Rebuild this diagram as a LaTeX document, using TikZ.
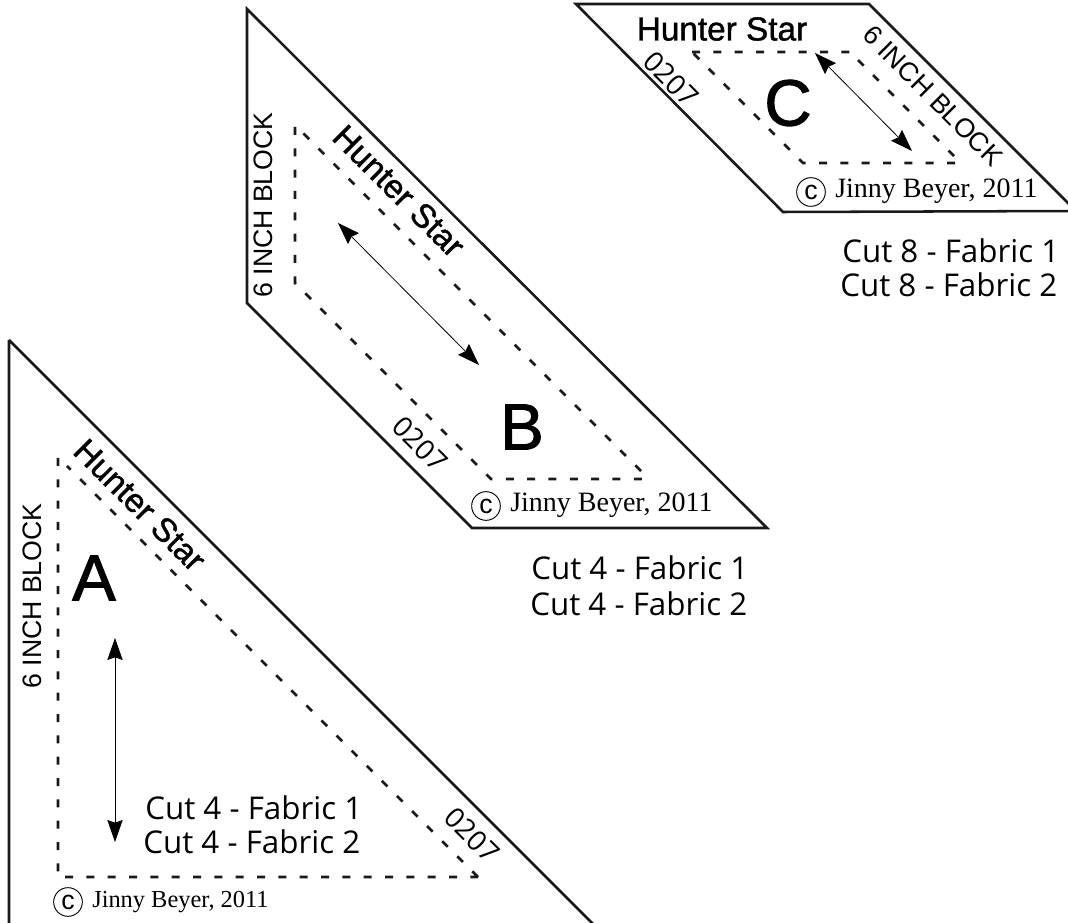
\documentclass[tikz,border=0pt]{standalone}
\usepackage{fontspec}
\setmainfont{Liberation Serif}
\setsansfont{Liberation Sans}
\newfontfamily\cutfont{Open Sans}
\newfontfamily\heavyfont[FakeBold=1.2]{Liberation Sans}
\newfontfamily\letterfont[FakeBold=1.6]{Liberation Sans}
\usetikzlibrary{arrows.meta}
\tikzset{
  edgeline/.style={line width=1.9pt,color=black!90,line join=miter},
  seamline/.style={line width=1.9pt,color=black!90,dash pattern=on 6pt off 10pt},
  grainline/.style={line width=0.6pt,{Stealth[length=16.5pt,width=11.5pt,inset=2pt]}-{Stealth[length=16.5pt,width=11.5pt,inset=2pt]}},
  titlelabel/.style={inner sep=0pt,font=\heavyfont\fontsize{25}{30}\selectfont},
  blocklabel/.style={inner sep=0pt,font=\sffamily\fontsize{20}{24}\selectfont},
  codelabel/.style={inner sep=0pt,font=\cutfont\fontsize{21}{25}\selectfont},
  letterlabel/.style={inner sep=0pt,font=\letterfont\fontsize{49}{56}\selectfont},
  cutlabel/.style={inner sep=0pt,anchor=west,font=\cutfont\fontsize{23.5}{28}\selectfont},
  copymark/.style={circle,draw,line width=0.7pt,inner sep=0pt,minimum size=21.5pt,font=\sffamily\fontsize{20}{22}\selectfont},
  ownerbig/.style={inner sep=0pt,anchor=west,font=\fontsize{21}{25}\selectfont},
  ownersmall/.style={inner sep=0pt,anchor=west,font=\fontsize{18.3}{22}\selectfont},
}
\begin{document}
\begin{tikzpicture}[x=0.75pt,y=0.75pt,yscale=-1,xscale=1]
\useasboundingbox (0,0) rectangle (1068,923);
\clip (0,0) rectangle (1068,923);

%Shape: Patch A
\draw [edgeline] (9,340) -- (9,932) (9,340) -- (601,932) ;
%Shape: Patch B
\draw [edgeline] (247,9) -- (247,303) -- (472,528) -- (767,528) -- cycle ;
%Shape: Patch C
\draw [edgeline] (576,4) -- (869,4) -- (1076,211) -- (783,212) -- cycle ;

%Seam Lines A
\draw [seamline] (58,458) -- (58,873) (65,877) -- (478,877) (478,877) -- (67,466) ;
%Seam Lines B
\draw [seamline] (295,127) -- (295,283) -- (491,479) -- (649,479) (641,471) -- (303,133) ;
%Seam Lines C
\draw [seamline] (692,52) -- (850,52) (858,60) -- (954,156) (955,163) -- (803,163) -- (692,52) ;

%Grain Arrows
\coordinate (grainAtop) at (115,638);
\coordinate (grainAend) at (115,842);
\coordinate (grainBtop) at (338,223);
\coordinate (grainBend) at (479,365);
\coordinate (grainCtop) at (815,53);
\coordinate (grainCend) at (912,151);
\draw [grainline] (grainAtop) -- (grainAend) ;
\draw [grainline] (grainBtop) -- (grainBend) ;
\draw [grainline] (grainCtop) -- (grainCend) ;

% Text Node
\node [titlelabel,rotate=-45] (titleA) at (140,505) {Hunter Star};
\node [titlelabel,rotate=-45] (titleB) at (399,191) {Hunter Star};
\node [titlelabel] (titleC) at (722,29) {Hunter Star};
% Text Node
\node [blocklabel,rotate=90] (blockA) at (32,596) {6 INCH BLOCK};
\node [blocklabel,rotate=90] (blockB) at (263,205) {6 INCH BLOCK};
\node [blocklabel,rotate=-45] (blockC) at (933,96) {6 INCH BLOCK};
% Text Node
\node [codelabel,rotate=-45] (codeA) at (472,835) {0207};
\node [codelabel,rotate=-45] (codeB) at (420,444) {0207};
\node [codelabel,rotate=-45] (codeC) at (671,79) {0207};
% Text Node
\node [letterlabel] (letterA) at (94,578) {A};
\node [letterlabel] (letterB) at (522,427) {B};
\node [letterlabel] (letterC) at (788,103) {C};
% Text Node
\node [cutlabel] (cutAone) at (145,808) {Cut 4 - Fabric 1};
\node [cutlabel] (cutAtwo) at (143,842) {Cut 4 - Fabric 2};
\node [cutlabel] (cutBone) at (531,568) {Cut 4 - Fabric 1};
\node [cutlabel] (cutBtwo) at (530,604) {Cut 4 - Fabric 2};
\node [cutlabel] (cutCone) at (842,251) {Cut 8 - Fabric 1};
\node [cutlabel] (cutCtwo) at (840,285) {Cut 8 - Fabric 2};
% Text Node
\node [copymark] (copyA) at (68,902) {c};
\node [ownersmall] (ownerA) at (92,902) {Jinny Beyer, 2011};
\node [copymark] (copyB) at (486,506) {c};
\node [ownerbig] (ownerB) at (510,505) {Jinny Beyer, 2011};
\node [copymark] (copyC) at (811,192) {c};
\node [ownerbig] (ownerC) at (835,191) {Jinny Beyer, 2011};

\end{tikzpicture}
\end{document}
